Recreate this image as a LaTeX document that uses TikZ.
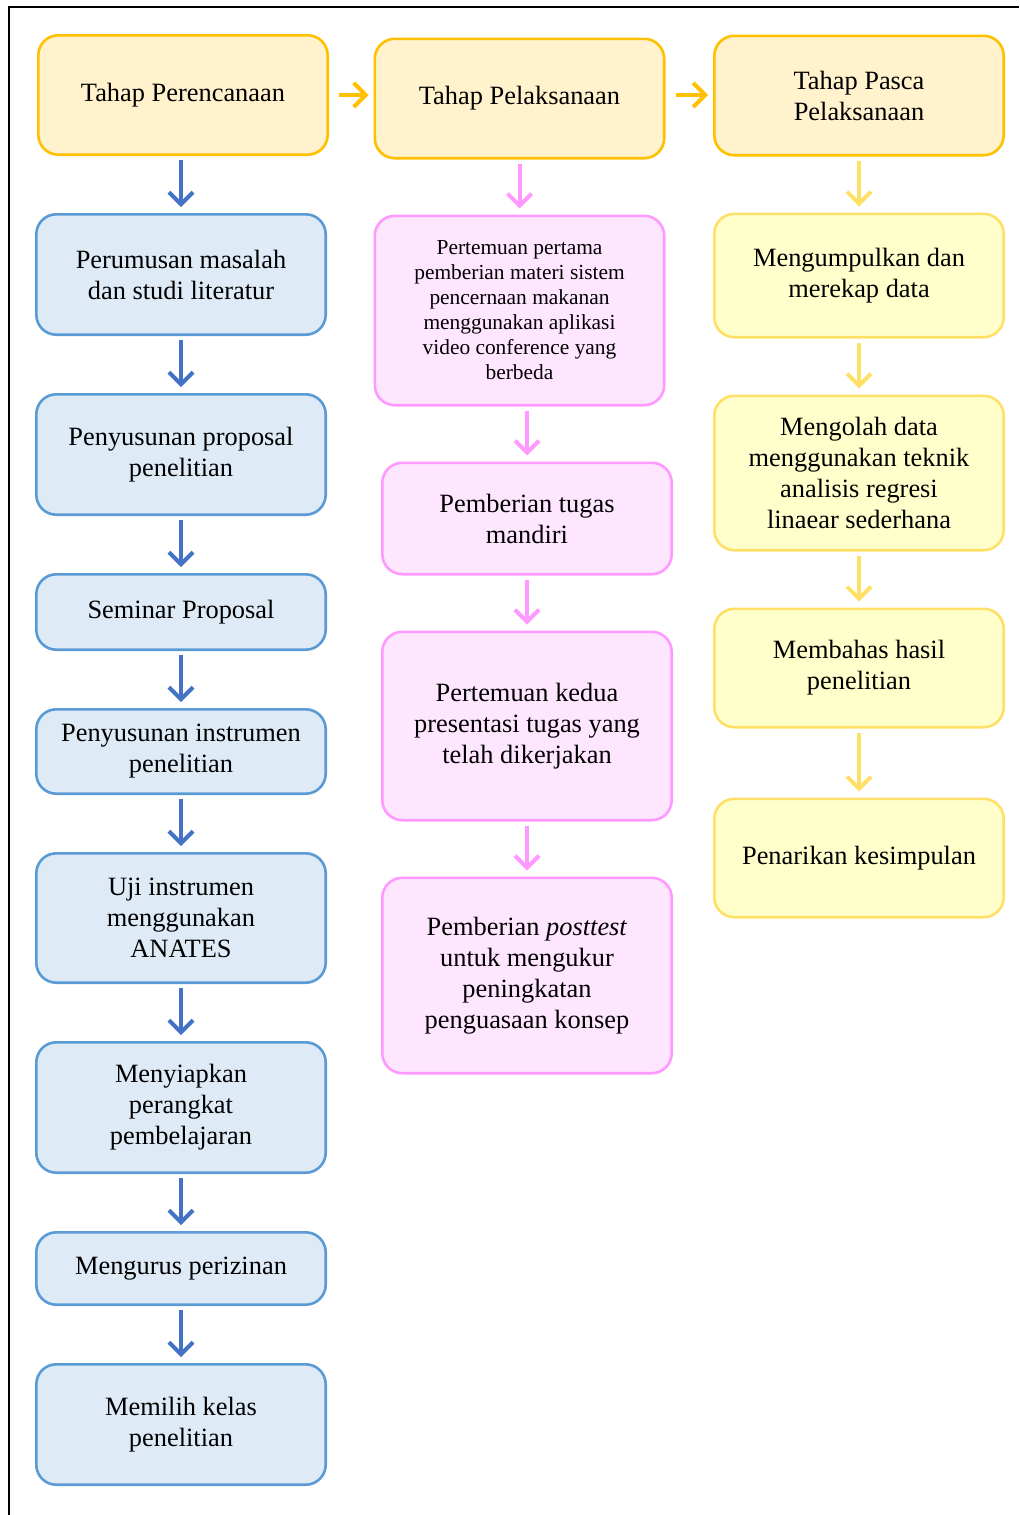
\documentclass[tikz,border=0pt]{standalone}
\usepackage{fontspec}
\setmainfont{Liberation Serif}
\usepackage{tikz}
\usetikzlibrary{positioning,arrows.meta}

\definecolor{headfill}{HTML}{FFF2CC}
\definecolor{headdraw}{HTML}{FFC000}
\definecolor{planfill}{HTML}{DEEBF7}
\definecolor{plandraw}{HTML}{5B9BD5}
\definecolor{planarrow}{HTML}{4472C4}
\definecolor{execfill}{HTML}{FFE6FF}
\definecolor{execdraw}{HTML}{FF99FF}
\definecolor{postfill}{HTML}{FFFFCC}
\definecolor{postdraw}{HTML}{FFE066}

\begin{document}
\begin{tikzpicture}[x=0.5pt, y=0.5pt, node distance=28.5pt,
    box/.style={rectangle, rounded corners=10pt, line width=1.3pt, align=center,
        minimum width=144.7pt, inner sep=2pt, font=\fontsize{13.2}{15.5}\selectfont},
    head/.style={box, draw=headdraw, fill=headfill, minimum height=59.7pt},
    plan/.style={box, draw=plandraw, fill=planfill},
    exec/.style={box, draw=execdraw, fill=execfill},
    post/.style={box, draw=postdraw, fill=postfill},
    flow/.style={-{Straight Barb[length=6pt,width=12pt]}, line width=2pt,
        shorten <=2pt, shorten >=3pt},
    flowh/.style={flow, draw=headdraw, shorten <=5pt, shorten >=2.5pt}]

    \useasboundingbox (0,0) rectangle (1019,-1515);

    % Frame
    \draw[line width=1.2pt] (9,-1515) -- (9,-7) -- (1019,-7);

    % Nodes
    \node (perencanaan) [head] at (183,-95) {Tahap Perencanaan};
    \node (pelaksanaan) [head] at (519.5,-98.5) {Tahap Pelaksanaan};
    \node (pasca) [head] at (859,-95.5) {Tahap Pasca\\Pelaksanaan};

    % Tahap perencanaan
    \node (rumusan) [plan, minimum height=60.2pt, below=of perencanaan, xshift=-1pt] {Perumusan masalah\\dan studi literatur};
    \node (proposal) [plan, minimum height=60.2pt, below=of rumusan] {Penyusunan proposal\\penelitian};
    \node (seminar) [plan, minimum height=37.7pt, below=of proposal] {Seminar Proposal};
    \node (instrumen) [plan, minimum height=42.2pt, below=of seminar] {Penyusunan instrumen\\penelitian};
    \node (uji) [plan, minimum height=64.7pt, below=of instrumen] {Uji instrumen\\menggunakan\\ANATES};
    \node (perangkat) [plan, minimum height=65.2pt, below=of uji] {Menyiapkan\\perangkat\\pembelajaran};
    \node (izin) [plan, minimum height=36.2pt, below=of perangkat] {Mengurus perizinan};
    \node (kelas) [plan, minimum height=60.2pt, below=of izin] {Memilih kelas\\penelitian};

    % Tahap pelaksanaan
    \node (pertama) [exec, minimum height=94.7pt, below=27.5pt of pelaksanaan,
        font=\fontsize{10.7}{12.5}\selectfont] {Pertemuan pertama\\pemberian materi sistem\\pencernaan makanan\\menggunakan aplikasi\\video conference yang\\berbeda};
    \node (tugas) [exec, minimum height=55.7pt, below=27.5pt of pertama, xshift=3.75pt] {Pemberian tugas\\mandiri};
    \node (kedua) [exec, minimum height=94.2pt, below=27.5pt of tugas] {Pertemuan kedua\\presentasi tugas yang\\telah dikerjakan};
    \node (posttest) [exec, minimum height=97.7pt, below=27.5pt of kedua] {Pemberian \textit{posttest}\\untuk mengukur\\peningkatan\\penguasaan konsep};

    % Tahap pasca pelaksanaan
    \node (rekap) [post, minimum height=61.7pt, below=28pt of pasca] {Mengumpulkan dan\\merekap data};
    \node (olah) [post, minimum height=77.2pt, below=28pt of rekap] {Mengolah data\\menggunakan teknik\\analisis regresi\\linaear sederhana};
    \node (bahas) [post, minimum height=59.2pt, below=28pt of olah] {Membahas hasil\\penelitian};
    \node (simpul) [post, minimum height=59.2pt, below=34.5pt of bahas] {Penarikan kesimpulan};

    % Arrows between stages
    \draw[flowh] (perencanaan.east) -- (pelaksanaan.west |- perencanaan.east);
    \draw[flowh] (pelaksanaan.east |- perencanaan.east) -- (pasca.west |- perencanaan.east);

    % Arrows in each stage
    \draw[flow, planarrow] (perencanaan.south -| rumusan) -- (rumusan);
    \draw[flow, planarrow] (rumusan) -- (proposal);
    \draw[flow, planarrow] (proposal) -- (seminar);
    \draw[flow, planarrow] (seminar) -- (instrumen);
    \draw[flow, planarrow] (instrumen) -- (uji);
    \draw[flow, planarrow] (uji) -- (perangkat);
    \draw[flow, planarrow] (perangkat) -- (izin);
    \draw[flow, planarrow] (izin) -- (kelas);

    \draw[flow, execdraw] (pelaksanaan) -- (pertama);
    \draw[flow, execdraw] (pertama.south -| tugas) -- (tugas);
    \draw[flow, execdraw] (tugas) -- (kedua);
    \draw[flow, execdraw] (kedua) -- (posttest);

    \draw[flow, postdraw] (pasca) -- (rekap);
    \draw[flow, postdraw] (rekap) -- (olah);
    \draw[flow, postdraw] (olah) -- (bahas);
    \draw[flow, postdraw] (bahas) -- (simpul);

\end{tikzpicture}
\end{document}
